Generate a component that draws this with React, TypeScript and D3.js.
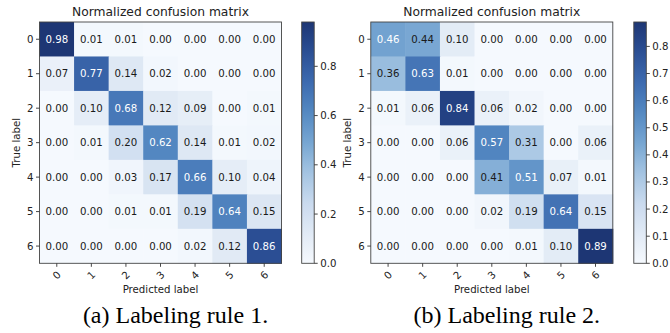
import React from "react";
import * as d3 from "d3";

const classes = ["0", "1", "2", "3", "4", "5", "6"];

const matrixA: number[][] = [
  [0.98, 0.01, 0.01, 0.0, 0.0, 0.0, 0.0],
  [0.07, 0.77, 0.14, 0.02, 0.0, 0.0, 0.0],
  [0.0, 0.1, 0.68, 0.12, 0.09, 0.0, 0.01],
  [0.0, 0.01, 0.2, 0.62, 0.14, 0.01, 0.02],
  [0.0, 0.0, 0.03, 0.17, 0.66, 0.1, 0.04],
  [0.0, 0.0, 0.01, 0.01, 0.19, 0.64, 0.15],
  [0.0, 0.0, 0.0, 0.0, 0.02, 0.12, 0.86],
];

const matrixB: number[][] = [
  [0.46, 0.44, 0.1, 0.0, 0.0, 0.0, 0.0],
  [0.36, 0.63, 0.01, 0.0, 0.0, 0.0, 0.0],
  [0.01, 0.06, 0.84, 0.06, 0.02, 0.0, 0.0],
  [0.0, 0.0, 0.06, 0.57, 0.31, 0.0, 0.06],
  [0.0, 0.0, 0.0, 0.41, 0.51, 0.07, 0.01],
  [0.0, 0.0, 0.0, 0.02, 0.19, 0.64, 0.15],
  [0.0, 0.0, 0.0, 0.0, 0.01, 0.1, 0.89],
];

const colorbarTicksA = [0, 0.2, 0.4, 0.6, 0.8];
const colorbarTicksB = [0, 0.1, 0.2, 0.3, 0.4, 0.5, 0.6, 0.7, 0.8];

const title = "Normalized confusion matrix";
const xLabel = "Predicted label";
const yLabel = "True label";
const captions = ["(a) Labeling rule 1.", "(b) Labeling rule 2."];

const paletteStops = [0, 0.125, 0.25, 0.375, 0.5, 0.625, 0.75, 0.875, 1];
const paletteColors = [
  "#f5f9fe",
  "#e1eaf5",
  "#c9daee",
  "#a4c4e2",
  "#77a6d2",
  "#5489c2",
  "#3d6bb0",
  "#2b4f95",
  "#1d3674",
];

const SANS = "DejaVu Sans, sans-serif";
const SERIF = "Liberation Serif, Times New Roman, serif";

type PanelProps = {
  id: string;
  data: number[][];
  cbTicks: number[];
  x0: number;
  cbGap: number;
  caption: string;
};

function Panel({ id, data, cbTicks, x0, cbGap, caption }: PanelProps) {
  const y0 = 22;
  const w = 242;
  const h = 241.3;
  const vmax = d3.max(data.flat()) as number;
  const norm = d3
    .scaleLinear<string>()
    .domain(paletteStops)
    .range(paletteColors)
    .interpolate(d3.interpolateRgb)
    .clamp(true);
  const color = (v: number) => norm(v / vmax);
  const xs = d3.scaleBand().domain(classes).range([x0, x0 + w]);
  const ys = d3.scaleBand().domain(classes).range([y0, y0 + h]);
  const bw = xs.bandwidth();
  const bh = ys.bandwidth();
  const cbX = x0 + w + cbGap;
  const cbW = 12.5;
  const cbScale = d3.scaleLinear().domain([0, vmax]).range([y0 + h, y0]);
  const stops = d3.range(0, 1.0001, 0.05);
  const thresh = vmax / 2;
  const fs = 10.2;
  return (
    <g>
      <defs>
        <linearGradient id={`grad-${id}`} x1="0" y1="1" x2="0" y2="0">
          {stops.map((t) => (
            <stop key={t} offset={`${t * 100}%`} stopColor={norm(t)} />
          ))}
        </linearGradient>
        <clipPath id={`clip-${id}`}>
          <rect x={0} y={0} width={670} height={293.5} />
        </clipPath>
      </defs>
      <text
        x={x0 + w / 2}
        y={y0 - 6}
        textAnchor="middle"
        fontFamily={SANS}
        fontSize={12.3}
        fill="#222"
      >
        {title}
      </text>
      {data.map((row, i) =>
        row.map((v, j) => (
          <rect
            key={`${i}-${j}`}
            x={xs(classes[j])}
            y={ys(classes[i])}
            width={bw + 0.5}
            height={bh + 0.5}
            fill={color(v)}
          />
        ))
      )}
      {data.map((row, i) =>
        row.map((v, j) => (
          <text
            key={`t${i}-${j}`}
            x={(xs(classes[j]) as number) + bw / 2}
            y={(ys(classes[i]) as number) + bh / 2}
            textAnchor="middle"
            dominantBaseline="central"
            fontFamily={SANS}
            fontSize={fs}
            fill={v > thresh ? "#ffffff" : "#1a1a1a"}
          >
            {v.toFixed(2)}
          </text>
        ))
      )}
      <rect x={x0} y={y0} width={w} height={h} fill="none" stroke="#444" strokeWidth={0.9} />
      {classes.map((c) => {
        const cy = (ys(c) as number) + bh / 2;
        return (
          <g key={`yt${c}`}>
            <line x1={x0 - 3.5} x2={x0} y1={cy} y2={cy} stroke="#333" strokeWidth={0.9} />
            <text
              x={x0 - 6}
              y={cy}
              textAnchor="end"
              dominantBaseline="central"
              fontFamily={SANS}
              fontSize={fs}
              fill="#222"
            >
              {c}
            </text>
          </g>
        );
      })}
      {classes.map((c) => {
        const cx = (xs(c) as number) + bw / 2;
        return (
          <g key={`xt${c}`}>
            <line x1={cx} x2={cx} y1={y0 + h} y2={y0 + h + 3.5} stroke="#333" strokeWidth={0.9} />
            <text
              transform={`translate(${cx},${y0 + h + 12}) rotate(-45)`}
              textAnchor="middle"
              dominantBaseline="central"
              fontFamily={SANS}
              fontSize={fs}
              fill="#222"
            >
              {c}
            </text>
          </g>
        );
      })}
      <g clipPath={`url(#clip-${id})`}>
        <text
          x={x0 + w / 2}
          y={y0 + h + 30}
          textAnchor="middle"
          fontFamily={SANS}
          fontSize={fs}
          fill="#222"
        >
          {xLabel}
        </text>
      </g>
      <text
        transform={`translate(${x0 - 20},${y0 + h / 2}) rotate(-90)`}
        textAnchor="middle"
        fontFamily={SANS}
        fontSize={fs}
        fill="#222"
      >
        {yLabel}
      </text>
      <rect x={cbX} y={y0} width={cbW} height={h} fill={`url(#grad-${id})`} stroke="#444" strokeWidth={0.9} />
      {cbTicks.map((t) => (
        <g key={`cb${t}`}>
          <line x1={cbX + cbW} x2={cbX + cbW + 3.5} y1={cbScale(t)} y2={cbScale(t)} stroke="#333" strokeWidth={0.9} />
          <text
            x={cbX + cbW + 6}
            y={cbScale(t)}
            dominantBaseline="central"
            fontFamily={SANS}
            fontSize={fs}
            fill="#222"
          >
            {t.toFixed(1)}
          </text>
        </g>
      ))}
      <text
        x={x0 + 136}
        y={323}
        textAnchor="middle"
        fontFamily={SERIF}
        fontSize={24}
        fill="#000"
      >
        {caption}
      </text>
    </g>
  );
}

export default function App() {
  return (
    <svg
      width={670}
      height={333}
      style={{ position: "absolute", left: 0, top: 0, background: "#fff" }}
    >
      <rect x={0} y={0} width={670} height={333} fill="#fff" />
      <Panel id="a" data={matrixA} cbTicks={colorbarTicksA} x0={39.5} cbGap={20.2} caption={captions[0]} />
      <Panel id="b" data={matrixB} cbTicks={colorbarTicksB} x0={370.8} cbGap={21} caption={captions[1]} />
    </svg>
  );
}
